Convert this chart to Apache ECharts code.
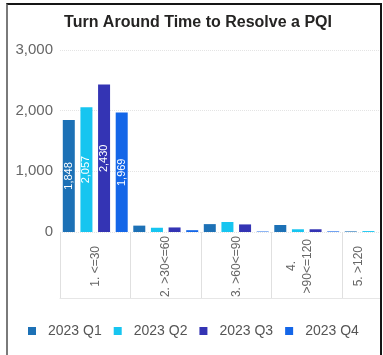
<!DOCTYPE html>
<html>
<head>
<meta charset="utf-8">
<script src="https://cdn.jsdelivr.net/npm/echarts@6/dist/echarts.min.js"></script>
<style>
  html, body { margin: 0; padding: 0; background: #fff; }
  #wrap { position: relative; width: 383px; height: 355px; overflow: hidden; }
  #chart { position: absolute; left: 0; top: 0; width: 380px; height: 355px; }
  #frame {
    position: absolute; left: 6px; top: 3px; width: 372px; height: 360px;
    border-top: 2px solid #151515; border-left: 2px solid #7a7a7a; border-right: 2px solid #151515;
    pointer-events: none;
  }
</style>
</head>
<body>
<div id="wrap">
  <div id="chart"></div>
  <div id="frame"></div>
</div>
<script>
// Resolution-time buckets (days) and the number of PQIs closed in each quarter
const categories = ['1. <=30', '2. >30<=60', '3. >60<=90', '4.\n>90<=120', '5. >120'];
const seriesNames = ['2023 Q1', '2023 Q2', '2023 Q3', '2023 Q4'];
const q1 = [1848, 105, 130, 115, 10];
const q2 = [2057, 70, 165, 45, 15];
const q3 = [2430, 75, 125, 45, 10];
const q4 = [1969, 30, 8, 10, 5];
const yTicks = [0, 1000, 2000, 3000];

const colors = ['#1d71b6', '#17c5f0', '#3434b4', '#1466e8'];
const FONT = 'Liberation Sans, Arial, sans-serif';
const LABEL_BAND = 61;   // length of the band under the axis holding the bucket names

const chart = echarts.init(document.getElementById('chart'), null, { renderer: 'canvas' });
const fmt = v => v.toLocaleString('en-US');

// measure text so each rotated bucket name is centred inside the label band
const ctx = document.createElement('canvas').getContext('2d');
ctx.font = '12px ' + FONT;
const textW = s => ctx.measureText(s).width;

// extra spacing after the wrapped lines pulls the last, squeezed buckets leftwards
const sideShift = { 3: 14, 4: 38 };

const richStyles = { t: { fontFamily: FONT, fontSize: 12, color: '#666', lineHeight: 16 } };
const bucketLabel = (value, index) => {
  const lines = value.split('\n').map((line, li) => {
    const pad = Math.max(0, Math.round((LABEL_BAND - textW(line)) / 2));
    const key = 'p' + index + '_' + li;
    richStyles[key] = { width: pad, lineHeight: 16 };
    return '{t|' + line + '}' + (pad > 0 ? '{' + key + '| }' : '');
  });
  if (sideShift[index]) {
    const g = 'g' + index;
    richStyles[g] = { lineHeight: sideShift[index], fontSize: 1 };
    lines.push('{' + g + '| }');
  }
  return lines.join('\n');
};
categories.forEach((c, i) => bucketLabel(c, i));

const mkSeries = (name, data, i) => ({
  name,
  type: 'bar',
  data,
  barWidth: 12,
  barGap: '47%',
  itemStyle: { color: colors[i] },
  label: {
    show: true,
    position: 'inside',
    rotate: 90,
    color: '#fff',
    fontFamily: FONT,
    fontSize: 11,
    formatter: p => (p.value >= 1000 ? fmt(p.value) : '')
  }
});

chart.setOption({
  backgroundColor: '#fff',
  animation: false,
  title: {
    text: 'Turn Around Time to Resolve a PQI',
    left: 193,
    textAlign: 'center',
    top: 10,
    textStyle: { fontFamily: FONT, fontSize: 16, fontWeight: 'bold', color: '#252423' }
  },
  legend: {
    data: seriesNames,
    left: 28,
    top: 324,
    padding: 0,
    icon: 'rect',
    itemWidth: 8,
    itemHeight: 8,
    itemGap: 12,
    textStyle: { fontFamily: FONT, fontSize: 14, color: '#555', padding: [0, 0, 0, 7] }
  },
  grid: {
    left: 60, top: 50, bottom: 123, width: 352.5,
    containLabel: false,
    outerBoundsMode: 'none'
  },
  xAxis: [
    {
      type: 'category',
      data: categories,
      axisLine: { show: false },
      axisTick: { show: true, length: 66, lineStyle: { color: '#e0e0e0' } },
      axisLabel: {
        interval: 0,
        rotate: 90,
        margin: 4,
        fontFamily: FONT,
        fontSize: 12,
        lineHeight: 16,
        color: '#666',
        formatter: bucketLabel,
        rich: richStyles
      }
    },
    {
      type: 'category',
      data: categories,
      position: 'bottom',
      offset: 66,
      axisLine: { show: true, lineStyle: { color: '#e6e6e6' } },
      axisTick: { show: false },
      axisLabel: { show: false }
    }
  ],
  yAxis: {
    type: 'value',
    min: yTicks[0],
    max: yTicks[yTicks.length - 1],
    interval: 1000,
    axisLine: { show: false },
    axisTick: { show: false },
    axisLabel: {
      margin: 7,
      fontFamily: FONT,
      fontSize: 15,
      color: '#666',
      formatter: v => fmt(v)
    },
    splitLine: { lineStyle: { color: '#e4e4e4', type: 'dotted' } }
  },
  series: [q1, q2, q3, q4].map((d, i) => mkSeries(seriesNames[i], d, i))
});
</script>
</body>
</html>
